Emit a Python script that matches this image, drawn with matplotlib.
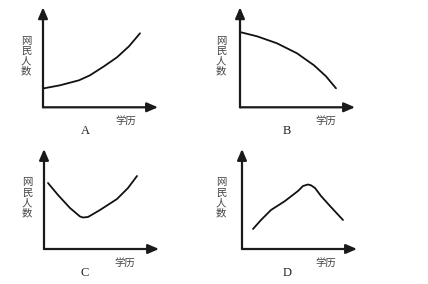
import matplotlib
matplotlib.use("Agg")
import matplotlib.pyplot as plt

plt.rcParams['font.family'] = ['Noto Sans CJK SC', 'DejaVu Sans']

# Conceptual curves: education level (x) vs. number of internet users (y)
edu_a = [0.1, 1.7, 3.6, 4.7, 6.1, 7.4, 8.6, 9.7]
users_a = [1.9, 2.2, 2.7, 3.2, 4.1, 5.0, 6.1, 7.4]

edu_b = [0.1, 1.7, 3.7, 5.7, 7.4, 8.6, 9.6]
users_b = [7.5, 7.1, 6.4, 5.4, 4.2, 3.1, 1.9]

edu_c = [0.4, 1.4, 2.6, 3.6, 3.9, 4.4, 5.6, 7.3, 8.4, 9.3]
users_c = [6.6, 5.4, 4.1, 3.25, 3.15, 3.2, 3.9, 5.0, 6.1, 7.3]

edu_d = [1.1, 1.9, 2.9, 4.3, 5.6, 6.1, 6.6, 6.9, 7.3, 7.9, 8.8, 10.1]
users_d = [2.0, 2.9, 3.9, 4.8, 5.8, 6.3, 6.45, 6.37, 6.1, 5.3, 4.3, 2.9]

panel_labels = ['A', 'B', 'C', 'D']
y_label = '网民人数'
x_label = '学历'

W, H = 428, 284
fig = plt.figure(figsize=(W / 100, H / 100), dpi=100)
fig.patch.set_facecolor('white')

# axis origin (px from left, px from top) and axis length in px
panels = [
    (43, 107.3, edu_a, users_a),
    (240, 107.3, edu_b, users_b),
    (44, 249, edu_c, users_c),
    (242, 249, edu_d, users_d),
]
axw, axh = 115, 100
ylab_dx = [-1.7, -1.9, -1.7, -2.1]
xlab_x = [8.3, 8.6, 8.1, 8.4]
letter_x = [4.2, 4.7, 4.1, 4.5]

for i, (ox, oy, xs, ys) in enumerate(panels):
    ax = fig.add_axes([ox / W, (H - oy) / H, axw / W, axh / H])
    ax.set_xlim(0, 11.5)
    ax.set_ylim(0, 10)
    ax.axis('off')
    ax.plot(xs, ys, color='#111111', lw=1.3, solid_capstyle='round',
            solid_joinstyle='round')
    arrow = dict(arrowstyle='-|>,head_length=0.65,head_width=0.28',
                 color='#1a1a1a', lw=1.6, shrinkA=0, shrinkB=0)
    ax.annotate('', xy=(1, 0), xytext=(0, 0), xycoords='axes fraction',
                textcoords='axes fraction', arrowprops=arrow,
                annotation_clip=False)
    ax.annotate('', xy=(0, 1), xytext=(0, 0), xycoords='axes fraction',
                textcoords='axes fraction', arrowprops=arrow,
                annotation_clip=False)
    ax.text(ylab_dx[i], 5.1, '\n'.join(y_label), ha='center', va='center',
            fontsize=7.5, color='#444444', linespacing=1.05, clip_on=False)
    ax.text(xlab_x[i], -1.35, x_label, ha='center', va='center',
            fontsize=7.5, color='#444444', clip_on=False)
    ax.text(letter_x[i], -2.4, panel_labels[i], ha='center', va='center',
            fontsize=9, color='#222222', family='Liberation Serif',
            clip_on=False)

fig.savefig('out.png', dpi=100, facecolor='white')
